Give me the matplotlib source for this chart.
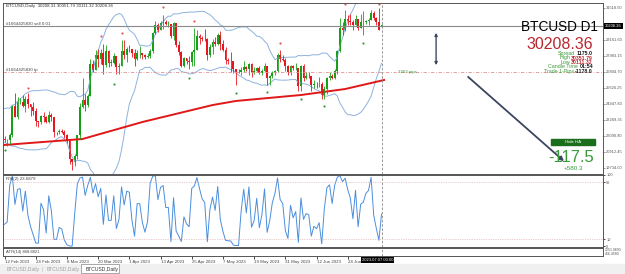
import matplotlib.pyplot as plt
import matplotlib.patches as mpatches
import numpy as np
import pandas as pd

plt.rcParams['font.family'] = ['Liberation Sans', 'DejaVu Sans']

# daily closes before the first visible candle (warm-up for bands and RSI)
pre_close = [22630, 23060, 23010, 23080, 23030, 23740, 22830, 23130, 23730, 23490,
             23430, 23330, 22930, 22760, 23260, 22960, 21800, 21630, 21860]

# BTCUSD daily, 12 Feb 2023 .. 7 Jul 2023
close = [21780, 21790, 22200, 24330, 23520, 24570, 24630, 24280, 24840, 24440,
         24190, 23940, 23190, 23150, 23550, 23490, 23140, 23630, 23470, 22360,
         22350, 22430, 22410, 22200, 21700, 20360, 20190, 20630, 22160, 24200,
         24750, 24380, 25050, 27420, 26970, 28040, 27770, 28170, 27310, 28330,
         27490, 27490, 27990, 27140, 27270, 28350, 28030, 28480, 28470, 28200,
         27790, 28170, 28170, 28030, 27920, 27950, 28330, 29650, 30240, 29890,
         30400, 30490, 30320, 30320, 29450, 30400, 28820, 28250, 27280, 27820,
         27590, 27520, 28310, 28420, 29470, 29340, 29250, 29230, 28070, 28680,
         29030, 28850, 29540, 28900, 28450, 27690, 27630, 27620, 26990, 26800,
         26780, 26930, 27170, 27030, 27400, 26830, 26890, 27120, 26750, 26850,
         27220, 26330, 26480, 26720, 26870, 28080, 27750, 27700, 27220, 26820,
         27250, 27070, 27120, 25760, 27240, 26350, 26500, 26480, 25850, 25940,
         25900, 25920, 25120, 25580, 26330, 26510, 26340, 26850, 28330, 30030,
         29910, 30700, 30550, 30470, 30270, 30700, 30080, 30450, 30480, 30590,
         30620, 31160, 30770, 30510, 29900, 30208.36]
high = [22070, 21890, 22310, 24370, 25250, 24990, 24870, 25120, 25050, 25250,
        24470, 24600, 24130, 23220, 23650, 23880, 23590, 23950, 23780, 23480,
        22410, 22600, 22600, 22540, 22250, 21800, 20370, 20800, 22180, 24500,
        26390, 25200, 25200, 27730, 27700, 28420, 28470, 28530, 28870, 28760,
        28390, 27780, 28190, 28000, 27490, 29160, 29170, 28650, 28790, 28520,
        28490, 28420, 28750, 28180, 28100, 28170, 28530, 29770, 30540, 30400,
        30590, 31000, 30600, 30550, 30320, 30470, 30410, 29090, 28360, 27890,
        27820, 28000, 28380, 30020, 29870, 29570, 29450, 29940, 29330, 28880,
        29260, 29360, 29680, 29810, 29150, 28620, 27820, 28310, 27620, 27020,
        27020, 27180, 27650, 27260, 27450, 27480, 27160, 27150, 27260, 27040,
        27480, 27210, 26600, 26900, 26920, 28170, 28440, 28040, 27830, 27330,
        27300, 27300, 27450, 27130, 27350, 27370, 26790, 26780, 26530, 26200,
        26100, 26420, 26080, 25750, 26470, 26770, 26690, 27000, 28400, 30760,
        30500, 31390, 31000, 31050, 30650, 31000, 30730, 31070, 31280, 30660,
        30790, 31380, 31330, 30880, 31500, 30351.79]
low = [21630, 21360, 21530, 22050, 23500, 23350, 24460, 24260, 23840, 24150,
       23600, 23630, 22860, 22750, 22960, 23110, 23050, 23020, 23200, 22000,
       22160, 22270, 22280, 21930, 21600, 20060, 19570, 19900, 20400, 21900,
       24150, 23930, 24200, 25000, 26830, 26920, 27200, 27370, 26670, 27160,
       27170, 27280, 27430, 26650, 26650, 27260, 27730, 27530, 28270, 27890,
       27280, 27680, 27840, 27750, 27790, 27870, 27810, 28200, 29610, 29730,
       29870, 29970, 30230, 30140, 29300, 29150, 28630, 28040, 27160, 27140,
       27390, 26990, 27220, 27260, 28400, 28900, 29100, 29110, 27680, 27880,
       28130, 28710, 28820, 28400, 28350, 27360, 27380, 26820, 26760, 25860,
       26700, 26610, 26770, 26890, 26590, 26400, 26670, 26830, 26670, 26560,
       26800, 25870, 25880, 26340, 26570, 26820, 27560, 27580, 26860, 26610,
       26580, 26950, 26980, 25420, 25400, 26140, 26300, 26350, 25420, 25650,
       25650, 25730, 24840, 24800, 25170, 26180, 26290, 26270, 26660, 28270,
       29560, 29830, 30300, 30280, 29920, 30230, 29920, 30050, 29530, 30330,
       30230, 30600, 30640, 30230, 29870, 30111.32]
last_open = 30208.31

# moving average (red line) at a few dates
ma_days = [0, 10, 30, 53, 80, 89, 114, 131, 146]
ma_vals = [21430, 21580, 21870, 23120, 24370, 24670, 25110, 25550, 26215]

# fractal dots
up_frac_days = [9, 37, 45, 61, 73, 106, 131, 144]
up_frac_vals = [25630, 29460, 29680, 31590, 30560, 28940, 31830, 31830]
dn_frac_days = [0, 42, 71, 89, 101, 114, 123, 138]
dn_frac_vals = [21060, 25920, 26360, 25260, 25330, 24820, 24300, 28940]

price_ticks = [31518.50, 29161.60, 27983.15, 26804.70, 25626.25, 24447.80,
               23269.35, 22090.90, 20912.45, 19734.00]
date_labels = ['12 Feb 2023', '24 Feb 2023', '8 Mar 2023', '20 Mar 2023', '1 Apr 2023',
               '13 Apr 2023', '25 Apr 2023', '7 May 2023', '19 May 2023', '31 May 2023',
               '12 Jun 2023', '24 Jun 2023']
sell_price = 30190
tp_price = 26800

W, H = 625, 274
GREEN = '#16a016'
RED = '#e8141e'


def box(x0, y0, x1, y1):
    return [x0 / W, 1 - y1 / H, (x1 - x0) / W, (y1 - y0) / H]


def ftext(x, y, s, **kw):
    return fig.text(x / W, 1 - y / H, s, **kw)


fig = plt.figure(figsize=(W / 100, H / 100), dpi=100)
ax = fig.add_axes(box(3, 3, 603, 174))
ax_rsi = fig.add_axes(box(3, 175, 603, 247), sharex=ax)
ax_atr = fig.add_axes(box(3, 248, 603, 256), sharex=ax)

n = len(close)
days = np.arange(n)
c = np.array(close, float)
o = np.array(pre_close[-1:] + close[:-1], float)
o[-1] = last_open
hi = np.maximum(np.array(high, float), np.maximum(o, c))
lo = np.minimum(np.array(low, float), np.minimum(o, c))
col = np.where(c >= o, GREEN, RED)

# bollinger bands and RSI from the closes
s = pd.Series(pre_close + close, dtype=float)
mid = s.rolling(20).mean()
sd = s.rolling(20).std(ddof=0)
bb_up = (mid + 2 * sd).iloc[-n:].values
bb_dn = (mid - 2 * sd).iloc[-n:].values
d = s.diff()
gain = d.clip(lower=0).ewm(alpha=0.5, adjust=False).mean()
loss = (-d.clip(upper=0)).ewm(alpha=0.5, adjust=False).mean()
rsi = (100 - 100 / (1 + gain / loss)).iloc[-n:].values

ax.plot(days, bb_up, color='#8db3df', lw=0.7)
ax.plot(days, bb_dn, color='#8db3df', lw=0.7)
ax.plot(ma_days, ma_vals, color='#e01818', lw=1.4)
ax.vlines(days, lo, hi, colors=col, lw=0.6)
ax.bar(days, np.maximum(np.abs(c - o), 25), bottom=np.minimum(o, c), width=0.7,
       color=col, lw=0)
ax.scatter(up_frac_days, up_frac_vals, s=2.5, color='#e05a5a', lw=0)
ax.scatter(dn_frac_days, dn_frac_vals, s=2.5, color='#3a9a3a', lw=0)

# order lines
ax.axhline(sell_price, color='#8a8a8a', lw=0.8)
ax.axhline(tp_price, color='#e09090', lw=0.6, ls=(0, (4, 2, 1, 2)))
ax.text(0.5, sell_price + 90, '#1664425830 sell 0.01', fontsize=3.2, color='#444')
ax.text(0.5, tp_price + 90, '#1664425830 tp', fontsize=3.2, color='#444')
ax.text(151.5, tp_price, '3363 pips', fontsize=3.2, color='#3a9a3a', va='center')

# drawn arrows
ax.annotate('', xy=(166, 27100), xytext=(166, 29900),
            arrowprops=dict(arrowstyle='<|-|>', color='#404860', lw=1.0,
                            mutation_scale=4))
ax.annotate('', xy=(216, 20100), xytext=(177.5, 26580),
            arrowprops=dict(arrowstyle='-|>', color='#3c4560', lw=1.3,
                            mutation_scale=6))

ax.set_xlim(-0.6, 230.2)
ax.set_ylim(19292, 31886)
ax.yaxis.tick_right()
ax.set_yticks(price_ticks)
ax.set_yticklabels([f'{v:.2f}' for v in price_ticks])
ax.tick_params(axis='y', labelsize=2.9, labelcolor='#555', length=1.5, width=0.5,
               pad=0.8, color='#777')
ax.tick_params(axis='x', bottom=False, labelbottom=False)

for a in (ax, ax_rsi, ax_atr):
    for sp in a.spines.values():
        sp.set_color('#555')
        sp.set_linewidth(0.7)
    a.axvline(145, color='#888', lw=0.6, ls=(0, (3, 2)))

# RSI panel
ax_rsi.plot(days, rsi, color='#4a8ede', lw=0.7)
for lvl in (90, 10):
    ax_rsi.axhline(lvl, color='#d9a0a0', lw=0.5, ls=(0, (1, 1.5)))
ax_rsi.set_ylim(-1, 100)
ax_rsi.yaxis.tick_right()
ax_rsi.set_yticks([100, 90, 10, 0])
ax_rsi.tick_params(axis='y', labelsize=2.8, labelcolor='#555', length=1.5,
                   width=0.5, pad=0.8)
ax_rsi.tick_params(axis='x', bottom=False, labelbottom=False)
ax_rsi.text(0.5, 97, 'RSI(2) 23.6879', fontsize=3.2, color='#444', va='top')

# ATR panel
ax_atr.set_ylim(0, 1)
ax_atr.set_yticks([])
ax_atr.text(0.5, 0.5, 'ATR(14) 868.8821', fontsize=3.0, color='#444', va='center')
ax_atr.set_xticks(np.arange(0, 144, 12))
ax_atr.set_xticklabels(date_labels, ha='left')
ax_atr.tick_params(axis='x', labelsize=3.2, labelcolor='#444', length=2,
                   width=0.5, pad=1.2)
ftext(604.5, 250, '1251.9690', fontsize=2.5, color='#555', va='center')
ftext(604.5, 254, '466.4580', fontsize=2.5, color='#555', va='center')

# header and panel texts
ftext(6, 5.5, 'BTCUSD,Daily  30208.31 30351.79 30111.32 30208.36', fontsize=3.2,
      color='#333', va='center')
ftext(613.5, 26, '30208.36', fontsize=2.9, color='white', ha='center', va='center',
      bbox=dict(facecolor='black', edgecolor='none', pad=0.8))
ftext(598, 27, 'BTCUSD D1', fontsize=9.8, ha='right', va='center', color='black')
ftext(593, 44.5, '30208.36', fontsize=11.5, ha='right', va='center', color='#b8282e')
info = [('Spread', '1175.0', 53.5, '#1a1a1a', 575), ('High', '30351.79', 58, '#b8282e', 570),
        ('Low', '30111.32', 62.5, '#b8282e', 570), ('Candle Time', '01:54', 67, '#1a1a1a', 578),
        ('Trade 1-Pips', '-1178.0', 71.5, '#1a1a1a', 574)]
for lab, val, yy, vc, lx in info:
    ftext(593, yy, val, fontsize=3.8, ha='right', va='center', color=vc,
          fontweight='bold')
    ftext(lx, yy, lab, fontsize=3.8, ha='right', va='center', color='#3a9a3a')

fig.patches.append(mpatches.Rectangle((551 / W, 1 - 145 / H), 44 / W, 6 / H,
                                      transform=fig.transFigure, color='#1b6e1b'))
ftext(573, 142, 'Hide HA', fontsize=3.2, color='white', ha='center', va='center')
ftext(594, 157, '-117.5', fontsize=12, ha='right', va='center', color='#3a9a3a')
ftext(573, 169, '+580.3', fontsize=4.5, ha='center', va='center', color='#3a9a3a')

# date marker under the cursor line
ftext(377.5, 260, '2023.07.07 00:00', fontsize=3.0, color='white', ha='center',
      va='center', zorder=5, bbox=dict(facecolor='black', edgecolor='none', pad=0.8))

# tab strip
fig.patches.append(mpatches.Rectangle((0, 0), 1, 10 / H, transform=fig.transFigure,
                                      color='#f0f0f0'))
fig.patches.append(mpatches.Rectangle((81 / W, 1 / H), 38 / W, 9 / H,
                                      transform=fig.transFigure, facecolor='white',
                                      edgecolor='#888', lw=0.5))
for tx, tc in ((7, '#a0a0a0'), (47, '#a0a0a0'), (86, '#333')):
    ftext(tx, 269, 'BTCUSD,Daily', fontsize=3.6, color=tc, va='center')
ftext(41, 269, '|', fontsize=4, color='#bbb', va='center')

fig.savefig('out.png', dpi=100)
